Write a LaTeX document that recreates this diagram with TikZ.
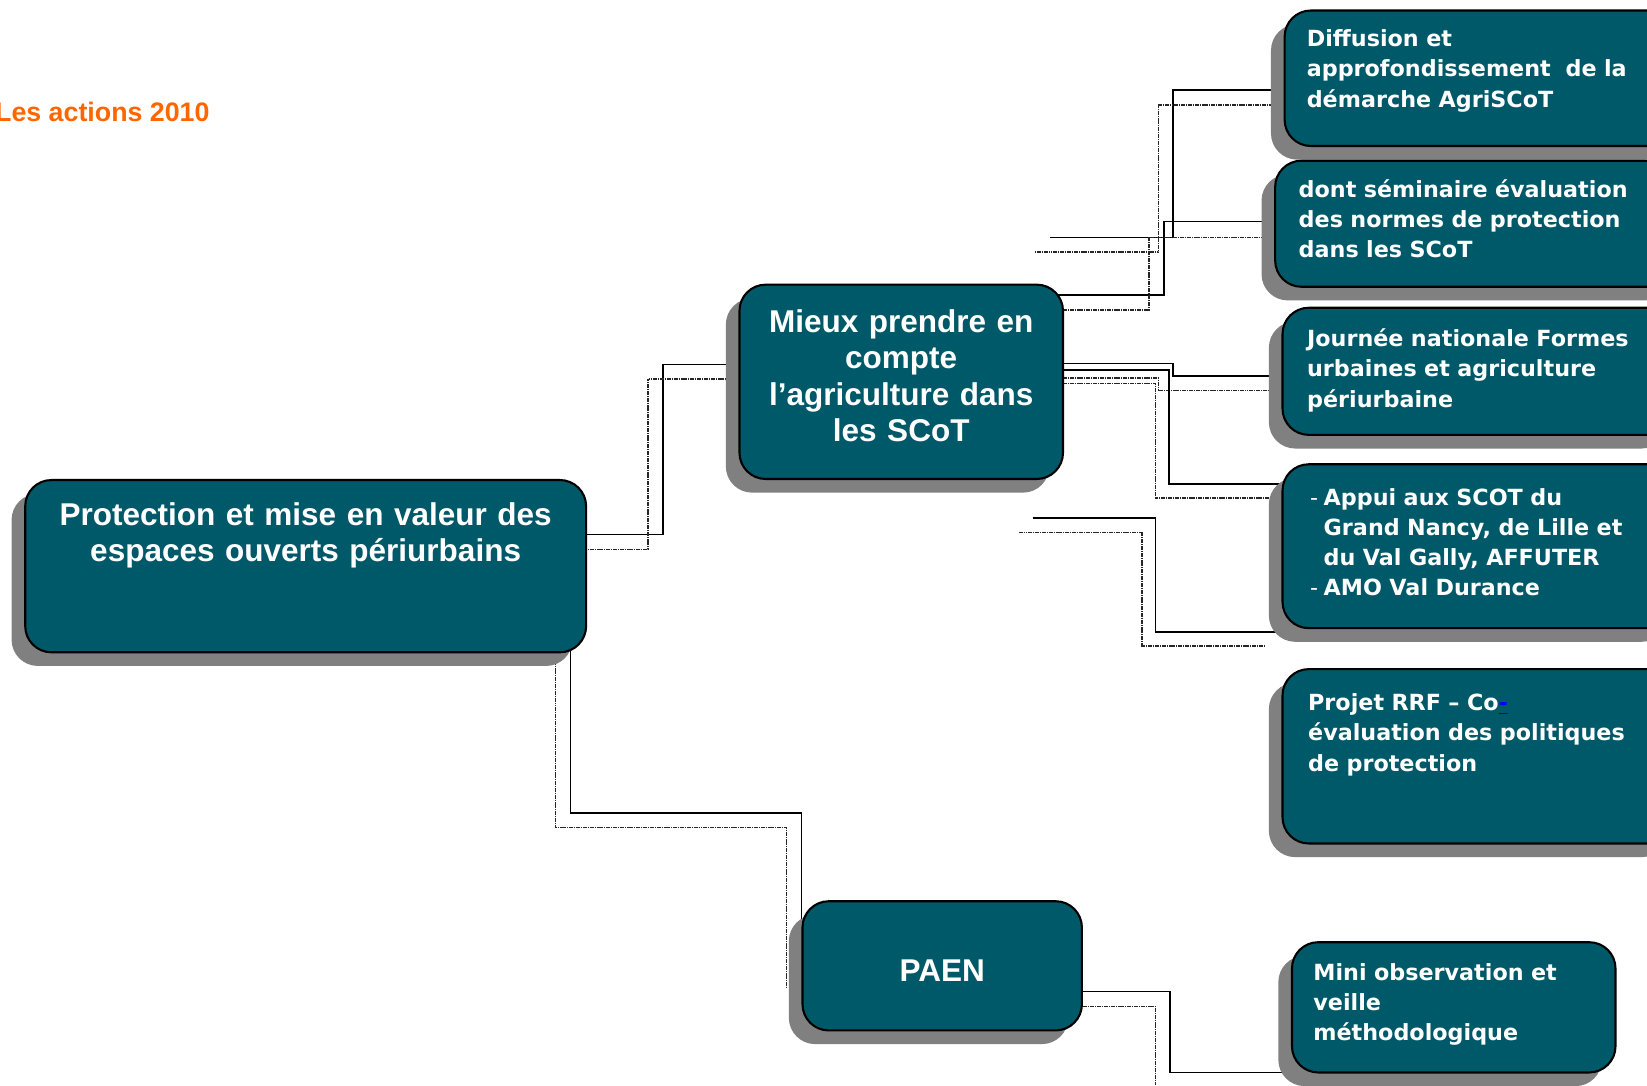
\documentclass[tikz,border=0pt]{standalone}
\usepackage{fontspec}
\setmainfont{Liberation Sans}
\newfontfamily\boxfont{DejaVu Sans}
\usetikzlibrary{positioning,shadows,backgrounds}
\definecolor{boxteal}{RGB}{0,89,104}
\definecolor{titleorange}{RGB}{255,102,0}

\begin{document}
\begin{tikzpicture}[x=0.5pt,y=-0.5pt,
  box/.style={draw=black,line width=1pt,fill=boxteal,rounded corners=12.5pt,
    anchor=north west,inner sep=0pt,
    drop shadow={shadow xshift=-6.5pt,shadow yshift=-6.5pt,fill=black!50,opacity=1}},
  boxsize/.style 2 args={minimum width=#1*0.5pt,minimum height=#2*0.5pt},
  bigtext/.style={text=white,font=\fontsize{15}{17.2}\selectfont\bfseries,
    align=center,inner sep=0pt,anchor=base},
  smalltext/.style={text=white,font=\boxfont\fontsize{10.6}{14.4}\selectfont\bfseries,
    align=left,inner sep=0pt,anchor=base west,text width=175pt},
  link/.style={line width=0.8pt,black},
  linkshadow/.style={line width=0.7pt,black!85,dash pattern=on 0.8pt off 0.3pt}]
\useasboundingbox (0,0) rectangle (1568,1033);
\clip (0,0) rectangle (1568,1033);

\node[font=\fontsize{12.75}{15}\selectfont\bfseries,text=titleorange,
  anchor=base west,inner sep=0pt] (title) at (-5,116) {Les actions 2010};

\node[box,boxsize={534}{164}] (prot) at (23,456) {};
\node[box,boxsize={308}{185}] (mieux) at (703,270) {};
\node[box,boxsize={266}{123}] (paen) at (763,857) {};
\node[box,boxsize={380}{129}] (diff) at (1222,9) {};
\node[box,boxsize={390}{120}] (semi) at (1213,152) {};
\node[box,boxsize={380}{121}] (journee) at (1220,292) {};
\node[box,boxsize={380}{156}] (appui) at (1220,441) {};
\node[box,boxsize={380}{166}] (rrf) at (1220,636) {};
\node[box,boxsize={308}{124}] (mini) at (1229,896) {};

\node[bigtext,text width=250pt] (prot-t) at ([yshift=-22pt]prot.north)
  {Protection et mise en valeur des\\espaces ouverts périurbains};
\node[bigtext,text width=150pt] (mieux-t) at ([yshift=-23.4pt]mieux.north)
  {Mieux prendre en\\compte\\l’agriculture dans\\les SCoT};
\node[bigtext] (paen-t) at ([yshift=-7.25pt]paen.center) {PAEN};

\node[smalltext] (diff-t) at ([xshift=10.85pt,yshift=-17.7pt]diff.north west)
  {Diffusion et\\approfondissement~ de la\\démarche AgriSCoT};
\node[smalltext] (semi-t) at ([xshift=11.5pt,yshift=-18pt]semi.north west)
  {dont séminaire évaluation\\des normes de protection\\dans les SCoT};
\node[smalltext] (journee-t) at ([xshift=12pt,yshift=-19pt]journee.north west)
  {Journée nationale Formes\\urbaines et agriculture\\périurbaine};
\node[smalltext] (appui-t) at ([xshift=13.4pt,yshift=-19.9pt]appui.north west)
  {\makebox[6.5pt][l]{\mdseries -}Appui aux SCOT du\\
   \hspace*{6.5pt}Grand Nancy, de Lille et\\
   \hspace*{6.5pt}du Val Gally, AFFUTER\\
   \makebox[6.5pt][l]{\mdseries -}AMO Val Durance};
\node[smalltext] (rrf-t) at ([xshift=12.5pt,yshift=-20.3pt]rrf.north west)
  {Projet RRF – Co\textcolor{blue}{\underline{-}}\\évaluation des politiques\\de protection};
\node[smalltext] (mini-t) at ([xshift=10.5pt,yshift=-18.5pt]mini.north west)
  {Mini observation et\\veille\\méthodologique};

\coordinate (stub1) at (1000,226);
\coordinate (stub1s) at (985,240);
\coordinate (stub2) at (983,493);
\coordinate (stub2s) at (970,507);
\coordinate (end2s) at (1205,615);
\coordinate (paen-s) at (749,940);
\coordinate (mini-s) at (1100,1033);

\begin{scope}[on background layer]
\draw[link] (prot.center |- 0,509) -| (631,347) -- (mieux.center |- 0,347);
\draw[linkshadow] (prot.center |- 0,523) -| (617,361) -- (mieux.center |- 0,361);
\draw[link] (prot.center -| 543,0) |- (763,774) -- (paen.center -| 763,0);
\draw[linkshadow] (prot.center -| 529,0) |- (749,788) -- (paen-s);
\draw[link] (stub1) -| (1117,86) -- (diff.center |- 0,86);
\draw[linkshadow] (stub1s) -| (1103,100) -- (diff.center |- 0,100);
\draw[link] (mieux.center |- 0,281) -| (1108,211) -- (semi.center |- 0,211);
\draw[linkshadow] (mieux.center |- 0,295) -| (1094,226) -- (semi.center |- 0,226);
\draw[link] (mieux.center |- 0,346) -| (1117,358) -- (journee.center |- 0,358);
\draw[linkshadow] (mieux.center |- 0,360) -| (1103,372) -- (journee.center |- 0,372);
\draw[link] (mieux.center |- 0,352) -| (1113,461) -- (appui.center |- 0,461);
\draw[linkshadow] (mieux.center |- 0,365) -| (1100,474) -- (appui.center |- 0,474);
\draw[link] (stub2) -| (1100,602) -- (appui.west |- 0,602);
\draw[linkshadow] (stub2s) -| (1087,615) -- (end2s);
\draw[link] (paen.center |- 0,944) -| (1114,1021) -- (mini.west |- 0,1021);
\draw[linkshadow] (paen.center |- 0,958) -| (mini-s);
\end{scope}
\end{tikzpicture}
\end{document}
